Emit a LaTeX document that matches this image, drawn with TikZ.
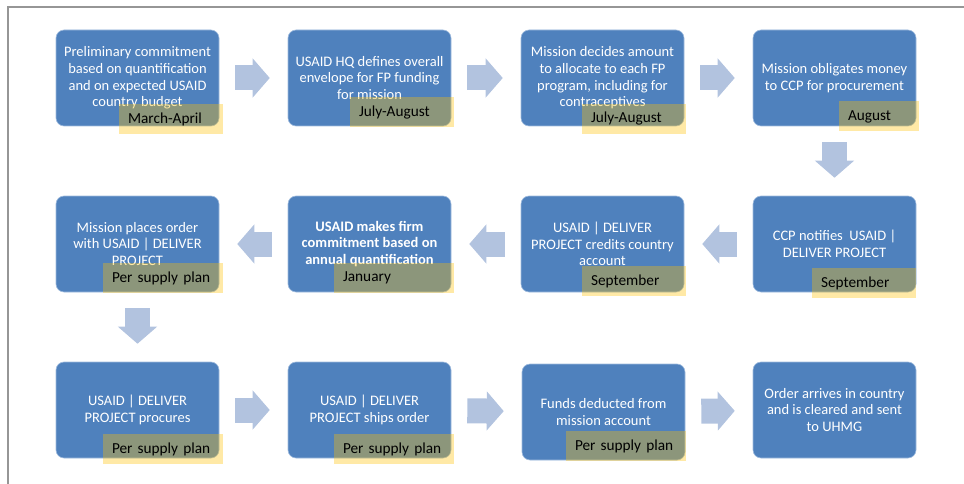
\documentclass[tikz,border=0pt]{standalone}
\usepackage{fontspec}
\setmainfont{Carlito}
\usetikzlibrary{arrows.meta}
\definecolor{boxblue}{RGB}{79,129,189}
\definecolor{boxedge}{RGB}{160,188,222}
\definecolor{arrowblue}{RGB}{178,195,223}
\definecolor{dategold}{RGB}{255,192,0}
\definecolor{framegray}{RGB}{150,150,150}

\begin{document}
\begin{tikzpicture}[x=1pt,y=-1pt,
    stepbox/.style={rectangle,rounded corners=8pt,fill=boxblue,draw=boxedge,line width=0.6pt,
        minimum width=163pt,minimum height=96pt,inner sep=0pt,align=center,text=white,
        font=\fontsize{14.5}{16.7}\selectfont},
    datebox/.style={rectangle,fill=dategold,fill opacity=0.35,text opacity=1,
        minimum height=30pt,inner xsep=9pt,inner ysep=0pt,text width=#1,align=left,
        font=\fontsize{15.3}{18}\selectfont},
    flowarrow/.style={arrowblue,line width=25pt,shorten <=16pt,shorten >=18pt,
        -{Triangle[length=17pt,width=39pt,line width=1pt]}}]
    \useasboundingbox (0,0) rectangle (964,484);
    \draw [framegray,line width=1.5pt] (964,7) -- (8,7) -- (8,484);

    % steps
    \node[stepbox] (b1) at (137.5,78) {Preliminary commitment\\based on quantification\\and on expected USAID\\country budget};
    \node[stepbox] (b2) at (369.5,78) {USAID HQ defines overall\\envelope for FP funding\\for mission};
    \node[stepbox] (b3) at (602.5,78) {Mission decides amount\\to allocate to each FP\\program, including for\\contraceptives};
    \node[stepbox] (b4) at (834.5,78) {Mission obligates money\\to CCP for procurement};
    \node[stepbox] (b5) at (137.5,244) {Mission places order\\with USAID | DELIVER\\PROJECT};
    \node[stepbox] (b6) at (369.5,244) {\bfseries USAID makes firm\\\bfseries commitment based on\\\bfseries annual quantification};
    \node[stepbox] (b7) at (602.5,244) {USAID | DELIVER\\PROJECT credits country\\account};
    \node[stepbox] (b8) at (834.5,244) {CCP notifies~ USAID |\\DELIVER PROJECT};
    \node[stepbox] (b9) at (137.5,410) {USAID | DELIVER\\PROJECT procures};
    \node[stepbox] (b10) at (369.5,410) {USAID | DELIVER\\PROJECT ships order};
    \node[stepbox] (b11) at (603.5,412) {Funds deducted from\\mission account};
    \node[stepbox] (b12) at (834.5,410) {Order arrives in country\\and is cleared and sent\\to UHMG};

    % dates
    \node[datebox=86pt] (d1) at (171,119) {March-April};
    \node[datebox=86pt] (d2) at (402,112.5) {July-August};
    \node[datebox=86pt] (d3) at (634,119) {July-August};
    \node[datebox=62pt] (d4) at (879,116.5) {August};
    \node[datebox=102pt] (d5) at (163,278) {Per supply plan};
    \node[datebox=102pt] (d6) at (394,278) {January};
    \node[datebox=86pt] (d7) at (634,281) {September};
    \node[datebox=86pt] (d8) at (864,283) {September};
    \node[datebox=102pt] (d9) at (163,449) {Per supply plan};
    \node[datebox=102pt] (d10) at (394,449) {Per supply plan};
    \node[datebox=102pt] (d11) at (626,446) {Per supply plan};

    \foreach \a/\b in {b1/b2,b2/b3,b3/b4,b4/b8,b8/b7,b7/b6,b6/b5,b5/b9,b9/b10,b10/b11,b11/b12} {
        \draw [flowarrow] (\a) -- (\b);
    }
\end{tikzpicture}
\end{document}
